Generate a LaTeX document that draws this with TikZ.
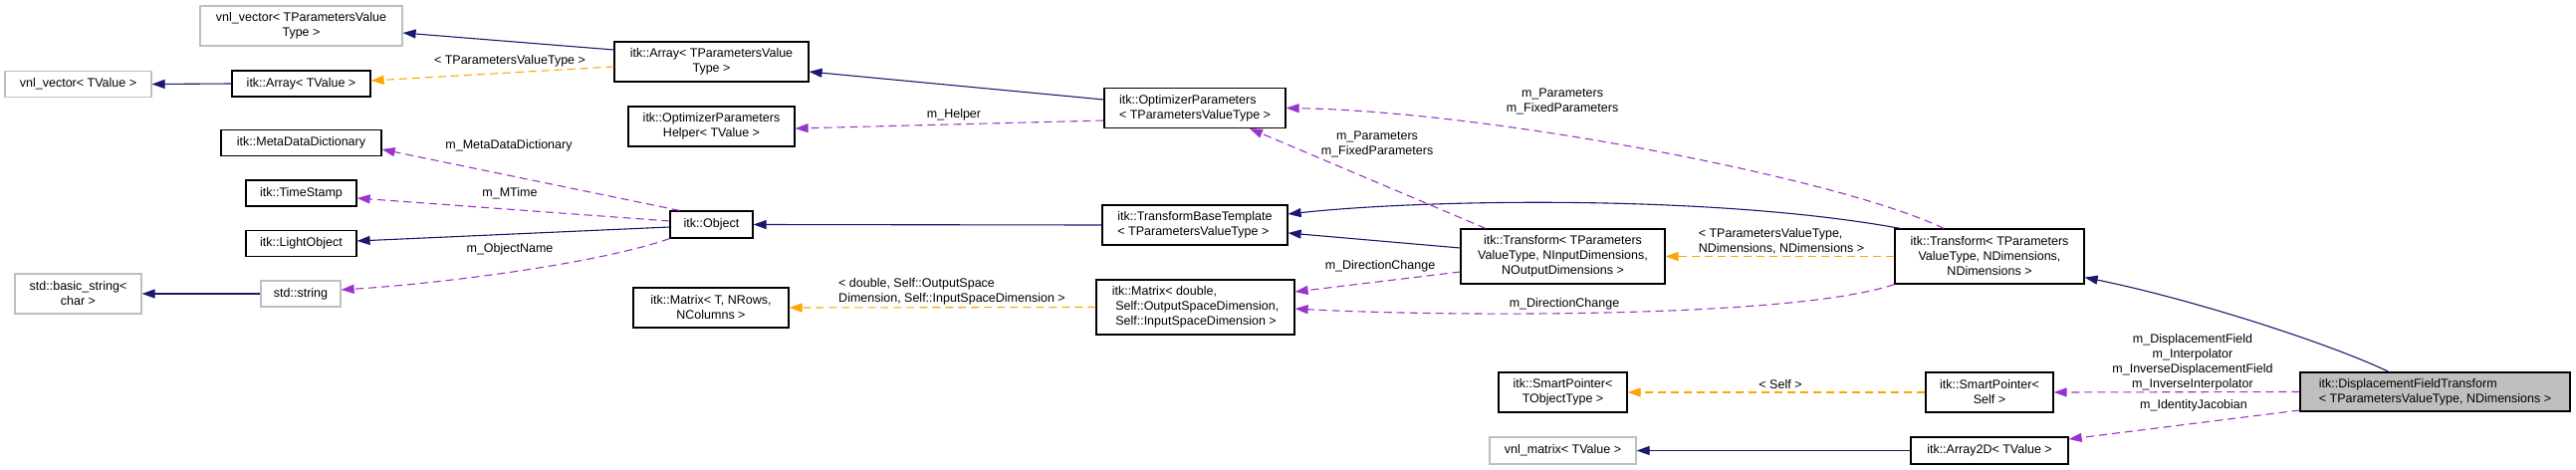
\documentclass[tikz,border=0pt]{standalone}
\usepackage{fontspec}
\setmainfont{Liberation Sans}
\usetikzlibrary{arrows.meta}
\newcommand\dxfont{\fontsize{12.5}{15}\selectfont}
\definecolor{navyc}{HTML}{191970}
\definecolor{purp}{HTML}{9A32CD}
\definecolor{orng}{HTML}{FFA500}
\definecolor{boxgray}{HTML}{BFBFBF}
\tikzset{
  box/.style 2 args={draw=black, line width=1.2pt, fill=white, inner sep=2pt,
    font=\dxfont, align=center, minimum width=#1pt, minimum height=#2pt},
  gbox/.style 2 args={box={#1}{#2}, draw=boxgray},
  lbl/.style={font=\dxfont, inner sep=0pt, align=center},
  tipc/.style={-{Triangle[length=13pt,width=9pt]}},
  inh/.style={draw=navyc, line width=1.1pt, tipc, fill=none},
  usee/.style={draw=purp, line width=1.1pt, dash pattern=on 8pt off 5pt, tipc},
  tmpl/.style={draw=orng, line width=1.1pt, dash pattern=on 8pt off 5pt, tipc},
}
\begin{document}
\begin{tikzpicture}[x=1pt,y=-1pt]
\useasboundingbox (0,0) rectangle (2587,471);
% nodes
\node[gbox={203}{40}] (vtp) at (302.5,26) {vnl\_vector< TParametersValue\\Type >};
\node[gbox={147}{26}] (vtv) at (78.5,84.5) {vnl\_vector< TValue >};
\node[box={139}{26}] (atv) at (302.5,84) {itk::Array< TValue >};
\node[box={195}{40}] (atp) at (714.5,62) {itk::Array< TParametersValue\\Type >};
\node[box={167}{40}] (oph) at (714.5,127) {itk::OptimizerParameters\\Helper< TValue >};
\node[box={161}{26}] (mdd) at (302.5,143.5) {itk::MetaDataDictionary};
\node[box={111}{26}] (ts) at (302.5,194) {itk::TimeStamp};
\node[box={111}{26}] (lo) at (302.5,244.5) {itk::LightObject};
\node[gbox={127}{40}] (bs) at (78.5,295) {std::basic\_string<\\char >};
\node[gbox={80}{26}] (ss) at (302,295) {std::string};
\node[box={83}{27}] (obj) at (714.5,225.5) {itk::Object};
\node[box={156}{40}] (mt) at (714,309) {itk::Matrix< T, NRows,\\NColumns >};
\node[box={182}{40}, align=left] (op) at (1200,108.5) {itk::OptimizerParameters\\< TParametersValueType >};
\node[box={186}{40}, align=left] (tbt) at (1200,226) {itk::TransformBaseTemplate\\< TParametersValueType >};
\node[box={199}{55}, align=left] (md) at (1200.5,308.5) {itk::Matrix< double,\\\ Self::OutputSpaceDimension,\\\ Self::InputSpaceDimension >};
\node[box={205}{55}] (tni) at (1569.5,257.5) {itk::Transform< TParameters\\ValueType, NInputDimensions,\\NOutputDimensions >};
\node[box={190}{55}] (tnd) at (1998,257.5) {itk::Transform< TParameters\\ValueType, NDimensions,\\NDimensions >};
\node[box={129}{40}] (spt) at (1569.5,394) {itk::SmartPointer<\\TObjectType >};
\node[box={128}{40}] (sps) at (1998,394) {itk::SmartPointer<\\Self >};
\node[gbox={147}{27}] (vm) at (1569.5,452.5) {vnl\_matrix< TValue >};
\node[box={158}{27}] (a2d) at (1998,452.5) {itk::Array2D< TValue >};
\node[box={271}{39}, align=left, fill=boxgray] (dft) at (2445.5,393.5) {itk::DisplacementFieldTransform\\< TParametersValueType, NDimensions >};
% edges
\draw[inh] ([yshift=12pt]atp.west) -- ([yshift=-7pt]vtp.east);
\draw[inh] (atv.west) -- (vtv.east);
\draw[tmpl] ([yshift=-5pt]atp.west) -- ([yshift=3pt]atv.east);
\draw[inh] ([yshift=8.5pt]op.west) -- ([yshift=-10pt]atp.east);
\draw[usee] ([yshift=-12.5pt]op.west) -- ([yshift=-2pt]oph.east);
\draw[usee] ([xshift=10pt]obj.north west) -- ([yshift=-6.5pt]mdd.east);
\draw[usee] ([yshift=3.5pt]obj.west) -- ([yshift=-5pt]ts.east);
\draw[inh] ([yshift=-2.5pt]obj.west) -- ([yshift=2.5pt]lo.east);
\draw[usee] (obj.south west) .. controls (600,265) and (440,285) .. ([yshift=4pt]ss.east);
\draw[inh] (ss.west) -- (bs.east);
\draw[inh] (tbt.west) -- (obj.east);
\draw[tmpl] (md.west) -- (mt.east);
\draw[inh] ([xshift=6pt]tnd.north west) .. controls (1720,195) and (1430,200) .. ([yshift=11pt]tbt.east);
\draw[inh] ([yshift=8.5pt]tni.west) -- ([yshift=-8pt]tbt.east);
\draw[usee] ([xshift=-46pt]tnd.north) .. controls (1850,180) and (1500,112) .. (op.east);
\draw[usee] ([xshift=-77.5pt]tni.north) -- ([xshift=55pt]op.south);
\draw[tmpl] (tnd.west) -- (tni.east);
\draw[usee] ([yshift=-15.5pt]tni.west) -- ([yshift=15.5pt]md.east);
\draw[usee] (tnd.south west) .. controls (1800,320) and (1450,318) .. ([yshift=-1.5pt]md.east);
\draw[tmpl] (sps.west) -- (spt.east);
\draw[inh] (a2d.west) -- (vm.east);
\draw[inh] ([xshift=-46.5pt]dft.north) .. controls (2340,345) and (2200,300) .. ([yshift=7pt]tnd.south east);
\draw[usee] (dft.west) -- (sps.east);
\draw[usee] ([yshift=-18.5pt]dft.west) -- ([yshift=11.5pt]a2d.east);
% labels
\node[lbl] (l1) at (512,61) {< TParametersValueType >};
\node[lbl] (l2) at (958,115) {m\_Helper};
\node[lbl] (l3) at (511,146) {m\_MetaDataDictionary};
\node[lbl] (l4) at (512,194) {m\_MTime};
\node[lbl] (l5) at (512,250) {m\_ObjectName};
\node[lbl, align=left] (l6) at (956,293) {< double, Self::OutputSpace\\Dimension, Self::InputSpaceDimension >};
\node[lbl] (l7) at (1569,102) {m\_Parameters\\m\_FixedParameters};
\node[lbl] (l8) at (1383,145) {m\_Parameters\\m\_FixedParameters};
\node[lbl, align=left] (l9) at (1789,242) {< TParametersValueType,\\NDimensions, NDimensions >};
\node[lbl] (l10) at (1386,267) {m\_DirectionChange};
\node[lbl] (l11) at (1571,305) {m\_DirectionChange};
\node[lbl] (l12) at (1788,386) {< Self >};
\node[lbl] (l13) at (2202,364) {m\_DisplacementField\\m\_Interpolator\\m\_InverseDisplacementField\\m\_InverseInterpolator};
\node[lbl] (l14) at (2203,407) {m\_IdentityJacobian};
\end{tikzpicture}
\end{document}
